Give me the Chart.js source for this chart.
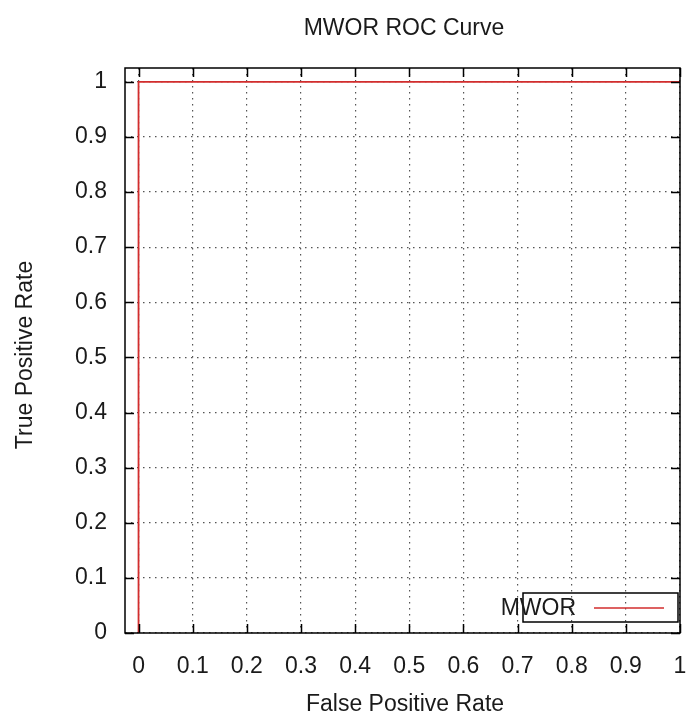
<!DOCTYPE html>
<html>
<head>
<meta charset="utf-8">
<script src="https://cdn.jsdelivr.net/npm/chart.js@4"></script>
<style>
  html, body { margin: 0; padding: 0; background: #fff; }
  #wrap { width: 691px; height: 725px; }
</style>
</head>
<body>
<div id="wrap"><canvas id="roc" width="691" height="725"></canvas></div>
<script>
// ROC curve values (false positive rate / true positive rate)
var fpr = [0, 0, 1];
var tpr = [0, 1, 1];
var seriesName = 'MWOR';
var xTicks = [0, 0.1, 0.2, 0.3, 0.4, 0.5, 0.6, 0.7, 0.8, 0.9, 1];
var yTicks = [0, 0.1, 0.2, 0.3, 0.4, 0.5, 0.6, 0.7, 0.8, 0.9, 1];
var titleText = 'MWOR ROC Curve';
var xTitle = 'False Positive Rate';
var yTitle = 'True Positive Rate';

var FONT = '"Liberation Sans", Arial, sans-serif';
var RED = 'rgb(210, 45, 45)';
var INK = '#1a1a1a';

// gnuplot-like frame: border, inward tick marks on all four sides, titles, legend box
var framePlugin = {
  id: 'frame',
  afterDraw: function (chart) {
    var ctx = chart.ctx;
    var a = chart.chartArea;
    var xs = chart.scales.x, ys = chart.scales.y;
    ctx.save();
    ctx.strokeStyle = '#000';
    ctx.lineWidth = 1.5;
    ctx.strokeRect(a.left, a.top, a.right - a.left, a.bottom - a.top);
    var len = 9;
    ctx.beginPath();
    xTicks.forEach(function (v) {
      var px = Math.round(xs.getPixelForValue(v)) + 0.5;
      ctx.moveTo(px, a.bottom); ctx.lineTo(px, a.bottom - len);
      ctx.moveTo(px, a.top); ctx.lineTo(px, a.top + len);
    });
    yTicks.forEach(function (v) {
      var py = Math.round(ys.getPixelForValue(v)) + 0.5;
      ctx.moveTo(a.left, py); ctx.lineTo(a.left + len, py);
      ctx.moveTo(a.right, py); ctx.lineTo(a.right - len, py);
    });
    ctx.stroke();

    // legend
    var lx = 523, ly = 593, lw = 155, lh = 29;
    ctx.strokeRect(lx, ly, lw, lh);
    ctx.fillStyle = INK;
    ctx.font = '23px ' + FONT;
    ctx.textAlign = 'right';
    ctx.textBaseline = 'middle';
    ctx.fillText(seriesName, 576, ly + lh / 2 + 1);
    ctx.strokeStyle = RED;
    ctx.lineWidth = 1.5;
    ctx.beginPath();
    ctx.moveTo(594, ly + lh / 2 + 0.5);
    ctx.lineTo(664, ly + lh / 2 + 0.5);
    ctx.stroke();

    // titles
    ctx.fillStyle = INK;
    ctx.textAlign = 'center';
    ctx.font = '23px ' + FONT;
    ctx.fillText(titleText, 404, 29);
    ctx.fillText(xTitle, 405, 705);
    ctx.translate(26, 355);
    ctx.rotate(-Math.PI / 2);
    ctx.fillText(yTitle, 0, 0);
    ctx.restore();
  }
};

new Chart(document.getElementById('roc'), {
  type: 'scatter',
  data: {
    datasets: [{
      label: seriesName,
      data: fpr.map(function (x, i) { return { x: x, y: tpr[i] }; }),
      showLine: true,
      borderColor: RED,
      borderWidth: 1.8,
      pointRadius: 0,
      tension: 0
    }]
  },
  options: {
    responsive: false,
    animation: false,
    layout: { padding: { top: 68, right: 11, left: 0, bottom: 0 } },
    plugins: { legend: { display: false }, tooltip: { enabled: false } },
    scales: {
      x: {
        type: 'linear',
        min: -0.025,
        max: 1,
        afterFit: function (s) { s.height = 92; s.paddingLeft = 0; s.paddingRight = 0; },
        afterBuildTicks: function (s) { s.ticks = xTicks.map(function (v) { return { value: v }; }); },
        grid: { color: '#555', lineWidth: 1.2, drawTicks: false },
        border: { display: false, dash: [1.5, 4.5] },
        ticks: {
          color: INK, padding: 20, maxRotation: 0, autoSkip: false,
          font: { family: FONT, size: 23 },
          callback: function (v) { return String(v); }
        }
      },
      y: {
        type: 'linear',
        min: 0,
        max: 1.025,
        afterFit: function (s) { s.width = 125; s.paddingTop = 0; s.paddingBottom = 0; },
        afterBuildTicks: function (s) { s.ticks = yTicks.map(function (v) { return { value: v }; }); },
        grid: { color: '#555', lineWidth: 1.2, drawTicks: false },
        border: { display: false, dash: [1.5, 4.5] },
        ticks: {
          color: INK, padding: 18, autoSkip: false,
          font: { family: FONT, size: 23 },
          callback: function (v) { return String(v); }
        }
      }
    }
  },
  plugins: [framePlugin]
});
</script>
</body>
</html>
